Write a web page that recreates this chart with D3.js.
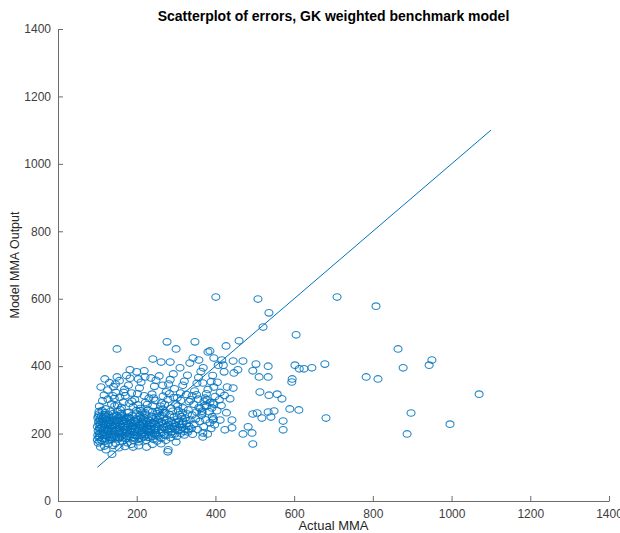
<!DOCTYPE html>
<html>
<head>
<meta charset="utf-8">
<script src="https://cdn.jsdelivr.net/npm/d3@7"></script>
<style>
  body { margin: 0; background: #fff; }
  text { font-family: "Liberation Sans", Arial, sans-serif; }
</style>
</head>
<body>
<svg></svg>
<script>
// x axis = actual MMA, y axis = model MMA output

let actualMMA = [
  100,101,102,100,103,101,104,106,105,108,107,102,109,110,104,106,
  113,115,118,112,116,120,122,125,127,123,129,131,133,136,134,138,140,119,128,137,114,126,132,139,
  142,145,147,143,149,151,153,156,158,154,159,161,163,165,168,166,169,162,146,157,164,148,167,152,
  172,174,177,173,178,180,182,185,187,183,189,191,193,196,194,198,199,176,186,195,179,188,197,171,
  202,204,207,203,208,210,212,215,217,213,219,221,223,225,228,226,229,222,206,218,227,211,224,216,
  232,234,237,233,238,240,242,245,247,243,249,251,253,255,258,256,259,236,246,252,257,231,241,248,
  262,265,268,263,269,272,275,278,281,277,284,286,289,292,288,295,297,299,266,274,283,291,279,280,
  302,305,308,303,309,312,315,318,314,321,324,327,323,330,333,336,339,306,317,329,
  342,346,350,355,360,365,370,375,380,386,392,398,352,368,384,395,358,373,
  108,122,137,140,155,170,191,205,225,240,262,300,118,
  103,105,107,104,106,103,111,114,116,111,117,113,119,121,124,126,121,128,124,130,129,131,130,
  135,137,139,135,138,141,144,146,149,144,150,152,155,157,154,160,162,159,163,166,170,171,168,174,175,177,178,
  181,184,186,181,190,192,190,193,197,200,198,201,205,206,209,212,214,211,217,220,222,224,228,230,231,235,237,239,
  244,246,250,252,256,260,263,267,270,272,276,280,282,287,290,294,298,301,307,310,316,320,326,332,
  134,158,176,199,214,229,253,268,287,112,144,188,222,261,294,139,167,203,243,283,
  304,318,331,345,362,377,391,404,415,428,312,337,352,374,396,410,423,341,366,389,
  105,113,117,126,131,109,136,143,147,141,156,161,166,171,169,179,183,191,195,202,207,211,221,227,231,239,
  245,249,257,263,267,275,281,285,293,299,303,311,317,321,329,333,341,347,353,357,363,371,377,381,389,393,
  121,151,181,209,241,271,127,157,187,219,247,279,146,174,204,236,266,296,326,356,386,399,396,405,412,430,437,445,
  368,379,394,366,394,412,442,368,
  150,277,300,348,381,241,262,285,335,343,358,183,200,219,310,119,150,
  460,427,386,396,416,445,470,407,420,503,534,602,613,625,645,401,508,536,521,605,
  709,808,864,950,943,877,678,783,813,1070,897,681,996,887,
  511,534,595,513,536,557,569,594,495,506,518,534,549,541,589,572,572,483,493,470,495,442,424,
  422,447,457,495,369,612
];

let modelOutput = [
  182,195,208,221,234,247,258,190,214,228,243,172,201,252,265,176,
  186,203,219,236,249,262,193,211,228,241,255,181,199,215,232,246,259,177,170,188,224,206,238,222,
  192,208,224,240,253,266,184,201,217,233,246,260,178,195,212,229,242,255,171,188,221,237,249,214,
  186,203,219,236,249,263,191,207,224,240,254,180,197,213,230,244,258,173,168,187,227,216,235,211,
  193,209,225,241,254,268,186,202,219,235,248,262,180,197,213,229,243,256,176,190,220,246,208,232,
  189,205,221,238,251,265,183,199,216,232,246,259,192,209,225,240,253,196,228,178,269,212,244,203,
  186,203,219,235,249,262,194,211,227,242,256,188,205,221,237,250,199,233,272,180,215,266,146,152,
  192,209,226,243,256,201,218,235,250,196,213,229,246,205,222,240,215,268,262,258,
  198,228,243,212,236,255,220,241,199,232,250,226,264,190,265,244,277,283,
  160,152,139,165,158,162,160,164,160,168,170,175,163,
  188,200,216,226,238,252,180,195,211,218,231,244,256,185,199,214,226,234,250,190,207,221,247,
  183,196,209,224,236,251,187,199,213,226,239,188,207,222,247,191,206,228,238,187,199,222,236,247,192,208,229,
  199,213,232,246,189,206,222,238,194,205,219,231,186,215,229,197,210,222,241,193,215,236,189,204,226,214,231,191,
  211,237,196,221,232,200,213,229,196,239,220,205,234,214,198,229,212,222,236,212,228,207,238,211,
  266,271,262,268,263,270,266,262,275,268,282,296,292,281,307,312,322,285,305,318,
  282,276,270,287,274,281,276,268,283,262,298,300,315,305,287,300,313,255,266,215,
  281,297,314,329,351,338,288,304,322,339,357,277,293,312,331,343,364,279,301,318,335,352,368,286,305,317,
  340,358,371,291,311,324,347,360,377,288,306,320,343,355,373,295,312,326,349,366,384,296,318,331,354,372,
  273,284,290,274,282,287,302,308,320,312,298,301,347,372,362,365,343,333,316,302,292,310,338,352,322,338,303,335,
  350,300,291,261,240,240,240,202,
  451,472,451,472,442,421,412,412,409,424,418,389,383,386,395,362,368,
  475,460,445,424,418,415,415,403,403,406,400,403,392,392,395,605,599,558,516,493,
  605,578,451,418,403,395,406,368,362,317,261,246,228,199,
  368,368,362,323,314,317,303,353,258,261,246,264,267,249,273,237,211,220,202,199,169,217,211,
  383,380,389,386,395,270
];

let refLine = [100, 1100];
let tickValues = [0, 200, 400, 600, 800, 1000, 1200, 1400];

let width   = 620,
    height  = 533;
let plotLeft = 58, plotRight = 609, plotTop = 29, plotBottom = 501;

let points = actualMMA.map((d, i) => ({x: d, y: modelOutput[i]}));

let xScale = d3.scaleLinear().domain([0, 1400]).range([plotLeft, plotRight]),
    yScale = d3.scaleLinear().domain([0, 1400]).range([plotBottom, plotTop]);

let xAxis = d3.axisBottom(xScale)
              .tickValues(tickValues)
              .tickFormat(d3.format('d'))
              .tickSizeInner(-5)
              .tickSizeOuter(0)
              .tickPadding(8),
    yAxis = d3.axisLeft(yScale)
              .tickValues(tickValues)
              .tickFormat(d3.format('d'))
              .tickSizeInner(-5)
              .tickSizeOuter(0)
              .tickPadding(7);

let svg = d3.select('svg')
    .attr('width', width)
    .attr('height', height);

let axisColor = '#6b6b6b';

//X Axis
let gx = svg.append('g')
    .attr('transform', `translate(0, ${plotBottom})`)
    .call(xAxis);
//Y Axis
let gy = svg.append('g')
    .attr('transform', `translate(${plotLeft}, 0)`)
    .call(yAxis);

[gx, gy].forEach(g => {
  g.select('.domain').attr('stroke', axisColor).attr('stroke-width', 1);
  g.selectAll('.tick line').attr('stroke', axisColor);
  g.selectAll('.tick text')
    .attr('fill', '#404040')
    .style('font-size', '12px')
    .style('font-family', '"Liberation Sans", Arial, sans-serif');
});

//Reference line y = x
svg.append('line')
    .attr('x1', xScale(refLine[0]))
    .attr('y1', yScale(refLine[0]))
    .attr('x2', xScale(refLine[1]))
    .attr('y2', yScale(refLine[1]))
    .attr('stroke', '#0072BD')
    .attr('stroke-width', 1);

//Markers (slightly wide, like the stretched reference)
svg.append('g')
  .selectAll('ellipse')
  .data(points)
  .enter()
  .append('ellipse')
    .attr('cx', d => xScale(d.x))
    .attr('cy', d => yScale(d.y))
    .attr('rx', 4)
    .attr('ry', 3.3)
    .attr('fill', 'none')
    .attr('stroke', '#0072BD')
    .attr('stroke-opacity', 0.85)
    .attr('stroke-width', 1.1);

//Title and labels
svg.append('text')
    .attr('x', (plotLeft + plotRight) / 2)
    .attr('y', 21)
    .attr('font-size', '14px')
    .attr('font-weight', 'bold')
    .style('text-anchor', 'middle')
    .text('Scatterplot of errors, GK weighted benchmark model');

svg.append('text')
    .attr('x', (plotLeft + plotRight) / 2)
    .attr('y', 530)
    .attr('font-size', '13px')
    .attr('fill', '#262626')
    .style('text-anchor', 'middle')
    .text('Actual MMA');

svg.append('text')
    .attr('transform', 'rotate(-90)')
    .attr('x', -(plotTop + plotBottom) / 2)
    .attr('y', 19)
    .attr('font-size', '12.5px')
    .attr('fill', '#262626')
    .style('text-anchor', 'middle')
    .text('Model MMA Output');
</script>
</body>
</html>
